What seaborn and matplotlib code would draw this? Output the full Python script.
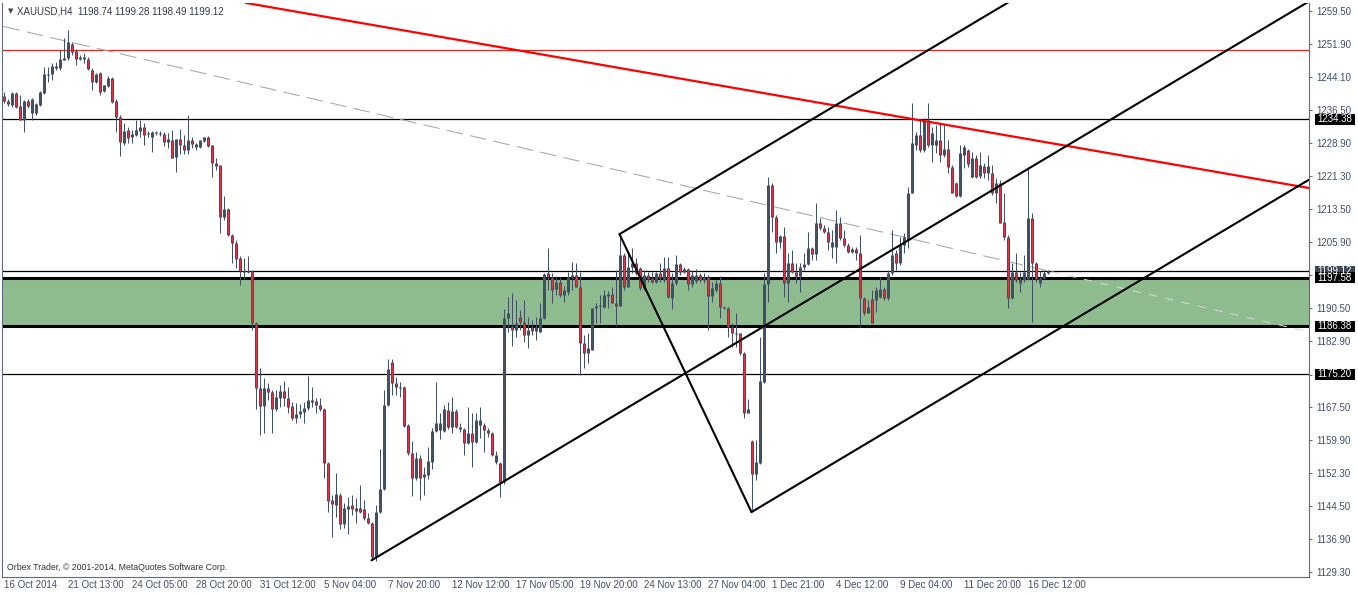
from __future__ import annotations

import matplotlib
matplotlib.use("Agg")
import matplotlib.pyplot as plt
import matplotlib.transforms as mtransforms
from matplotlib.patches import Rectangle
import numpy as np
import seaborn as sns


# H4 candles, XAUUSD (bar 0 = 16 Oct 2014 00:00)
OPEN = [
    1239.7, 1238.6, 1237.6, 1240.4, 1237.4, 1234.2, 1238.6, 1235.8, 1235.8, 1237.6,
    1240.4, 1244.8, 1244.8, 1246.7, 1246.2, 1248.1, 1248.5, 1251.8, 1250.2, 1248.3,
    1248.3, 1248.3, 1245.8, 1243.0, 1245.1, 1240.9, 1242.0, 1243.9, 1238.6, 1234.9,
    1228.8, 1231.8, 1230.2, 1230.7, 1231.6, 1232.5, 1231.1, 1230.2, 1231.1, 1231.1,
    1230.9, 1229.1, 1229.5, 1225.6, 1229.8, 1228.4, 1227.2, 1229.5, 1227.9, 1227.9,
    1229.3, 1230.2, 1228.4, 1224.2, 1223.7, 1211.7, 1213.5, 1207.5, 1205.6, 1202.1,
    1199.1, 1198.9, 1199.1, 1187.1, 1172.0, 1167.8, 1172.0, 1171.1, 1167.1, 1169.7,
    1171.3, 1169.7, 1167.8, 1165.0, 1166.0, 1166.4, 1167.3, 1169.2, 1169.0, 1168.0,
    1167.1, 1154.6, 1146.0, 1144.8, 1147.2, 1140.4, 1143.9, 1144.8, 1143.4, 1144.1,
    1143.9, 1141.8, 1140.7, 1132.8, 1143.2, 1148.5, 1168.0, 1178.0, 1173.1, 1172.2,
    1172.2, 1163.4, 1156.9, 1151.1, 1155.7, 1151.3, 1151.8, 1154.8, 1162.0, 1162.2,
    1162.0, 1166.9, 1162.9, 1166.6, 1162.5, 1162.5, 1159.2, 1161.5, 1159.5, 1163.4,
    1163.4, 1162.2, 1161.5, 1154.8, 1154.6, 1150.2, 1188.2, 1186.4, 1185.4, 1188.5,
    1187.3, 1184.3, 1186.1, 1185.2, 1185.0, 1188.2, 1198.7, 1197.7, 1195.0, 1196.6,
    1193.6, 1194.3, 1197.7, 1198.2, 1195.4, 1182.4, 1180.1, 1180.8, 1190.5, 1191.0,
    1190.8, 1193.3, 1193.8, 1191.7, 1191.0, 1202.8, 1195.4, 1200.1, 1201.0, 1199.8,
    1195.2, 1198.2, 1197.5, 1196.6, 1198.7, 1197.0, 1199.8, 1192.9, 1196.3, 1200.8,
    1198.9, 1199.6, 1196.1, 1196.8, 1198.2, 1197.0, 1197.7, 1193.3, 1194.7, 1196.3,
    1190.8, 1190.5, 1186.1, 1184.7, 1184.7, 1180.1, 1166.2, 1159.7, 1152.0, 1154.6,
    1173.4, 1196.1, 1219.1, 1211.7, 1205.9, 1207.2, 1196.3, 1201.0, 1198.9, 1198.0,
    1200.1, 1200.8, 1204.5, 1203.1, 1210.3, 1209.1, 1208.2, 1204.7, 1204.7, 1210.3,
    1206.8, 1205.2, 1203.5, 1204.2, 1203.3, 1192.9, 1189.4, 1192.6, 1192.4, 1193.1,
    1195.0, 1192.9, 1198.7, 1203.3, 1201.0, 1205.2, 1206.3, 1217.2, 1228.4, 1230.7,
    1227.2, 1234.2, 1228.4, 1228.4, 1229.5, 1226.0, 1227.4, 1223.3, 1219.5, 1216.5,
    1226.0, 1227.2, 1220.9, 1225.3, 1221.2, 1223.5, 1221.9, 1221.9, 1217.2, 1219.5,
    1210.5, 1207.0, 1192.9, 1198.9, 1196.3, 1197.0, 1197.3, 1211.4, 1201.0, 1196.3,
    1197.5, 1198.74,
]
HIGH = [
    1240.7, 1239.0, 1240.7, 1240.7, 1240.0, 1238.8, 1239.0, 1239.3, 1238.1, 1240.9,
    1246.5, 1246.5, 1247.4, 1247.6, 1250.4, 1253.2, 1255.0, 1252.3, 1250.6, 1249.2,
    1249.7, 1248.8, 1246.2, 1245.1, 1245.3, 1242.3, 1244.4, 1244.1, 1239.0, 1235.3,
    1233.5, 1232.5, 1231.8, 1234.2, 1234.2, 1233.5, 1231.6, 1231.6, 1231.6, 1231.6,
    1231.4, 1231.1, 1231.8, 1229.8, 1232.0, 1230.7, 1235.3, 1230.2, 1228.8, 1229.5,
    1230.2, 1230.4, 1228.4, 1225.3, 1223.7, 1216.5, 1213.7, 1207.7, 1206.3, 1202.6,
    1202.1, 1202.6, 1199.4, 1187.3, 1176.6, 1174.3, 1173.1, 1171.5, 1171.5, 1172.7,
    1173.6, 1172.2, 1168.7, 1168.5, 1168.3, 1168.7, 1174.8, 1172.2, 1169.7, 1169.7,
    1167.3, 1154.8, 1147.2, 1152.3, 1147.6, 1145.3, 1146.7, 1147.2, 1146.5, 1149.5,
    1146.0, 1143.0, 1140.9, 1144.8, 1157.8, 1171.5, 1178.7, 1178.7, 1174.5, 1173.4,
    1172.5, 1163.6, 1159.7, 1157.1, 1156.4, 1153.7, 1158.3, 1162.7, 1173.4, 1166.2,
    1168.0, 1168.7, 1169.9, 1167.1, 1163.9, 1162.7, 1167.6, 1166.2, 1166.2, 1167.6,
    1163.9, 1162.7, 1161.8, 1157.4, 1154.8, 1190.3, 1193.1, 1194.0, 1192.4, 1190.1,
    1192.4, 1188.5, 1187.8, 1188.5, 1191.7, 1198.7, 1204.5, 1198.7, 1198.0, 1197.7,
    1195.7, 1198.9, 1201.2, 1201.0, 1198.9, 1184.3, 1184.7, 1190.5, 1191.7, 1193.6,
    1194.7, 1194.5, 1195.4, 1199.4, 1207.7, 1203.3, 1203.5, 1204.5, 1202.1, 1200.1,
    1199.4, 1198.9, 1198.9, 1198.9, 1201.0, 1202.4, 1202.4, 1198.7, 1202.8, 1201.0,
    1200.1, 1199.8, 1199.4, 1199.6, 1198.7, 1198.7, 1198.2, 1196.6, 1197.0, 1198.0,
    1191.0, 1190.8, 1187.1, 1189.4, 1184.7, 1180.3, 1169.4, 1159.9, 1159.9, 1183.8,
    1198.7, 1220.9, 1219.5, 1212.1, 1207.5, 1209.3, 1203.3, 1204.0, 1201.0, 1201.0,
    1203.3, 1208.2, 1204.7, 1214.9, 1211.4, 1209.8, 1209.3, 1208.6, 1213.3, 1211.7,
    1208.6, 1205.6, 1204.7, 1204.7, 1207.5, 1193.1, 1192.4, 1194.7, 1195.4, 1197.7,
    1195.4, 1199.4, 1208.6, 1204.0, 1207.0, 1207.9, 1218.6, 1238.1, 1231.4, 1234.2,
    1234.6, 1238.1, 1232.5, 1233.0, 1233.5, 1233.0, 1229.5, 1223.7, 1219.8, 1228.4,
    1228.4, 1227.4, 1226.7, 1226.0, 1226.7, 1224.2, 1226.0, 1223.7, 1220.7, 1220.2,
    1217.2, 1207.5, 1201.0, 1203.3, 1198.9, 1202.8, 1223.3, 1212.6, 1201.2, 1199.1,
    1199.4, 1199.28,
]
LOW = [
    1238.1, 1237.4, 1237.2, 1236.9, 1234.2, 1231.4, 1236.9, 1234.2, 1235.3, 1237.4,
    1240.2, 1243.0, 1243.4, 1245.8, 1245.8, 1248.1, 1248.1, 1249.2, 1246.9, 1248.1,
    1247.4, 1245.8, 1241.1, 1242.7, 1240.0, 1240.7, 1241.8, 1238.1, 1231.4, 1225.8,
    1228.4, 1228.8, 1228.8, 1230.4, 1230.2, 1228.4, 1230.2, 1226.7, 1230.7, 1230.4,
    1228.1, 1227.7, 1225.3, 1222.1, 1226.3, 1226.3, 1226.3, 1227.7, 1227.2, 1227.7,
    1229.1, 1227.9, 1220.9, 1222.6, 1207.9, 1211.0, 1207.2, 1201.0, 1199.8, 1195.9,
    1197.3, 1198.7, 1185.4, 1167.1, 1161.1, 1161.5, 1169.2, 1161.5, 1166.6, 1167.6,
    1167.8, 1166.2, 1164.6, 1163.9, 1165.0, 1163.9, 1166.9, 1167.6, 1166.2, 1166.6,
    1151.1, 1143.2, 1137.4, 1142.1, 1139.3, 1139.5, 1138.1, 1142.5, 1140.7, 1143.0,
    1141.4, 1140.4, 1132.1, 1131.9, 1143.0, 1148.3, 1167.8, 1170.4, 1170.4, 1169.9,
    1162.9, 1156.4, 1146.9, 1150.6, 1146.0, 1147.2, 1150.9, 1153.2, 1161.8, 1160.2,
    1161.8, 1162.5, 1161.5, 1162.7, 1161.8, 1156.4, 1159.0, 1153.7, 1159.2, 1160.4,
    1157.1, 1160.6, 1156.2, 1154.3, 1146.7, 1149.7, 1185.0, 1181.7, 1183.8, 1185.4,
    1182.7, 1181.3, 1184.3, 1183.1, 1185.0, 1188.0, 1194.7, 1191.7, 1193.6, 1193.1,
    1191.9, 1193.6, 1194.7, 1195.4, 1175.0, 1176.6, 1177.8, 1180.8, 1187.1, 1187.1,
    1190.5, 1190.5, 1191.7, 1186.4, 1191.0, 1194.7, 1195.4, 1198.7, 1198.2, 1194.7,
    1194.7, 1196.6, 1196.3, 1196.3, 1196.6, 1196.6, 1192.9, 1190.3, 1195.9, 1198.2,
    1198.7, 1194.7, 1195.4, 1196.3, 1196.6, 1196.3, 1185.4, 1191.9, 1194.3, 1188.2,
    1190.3, 1183.8, 1181.5, 1181.5, 1179.6, 1165.0, 1166.2, 1143.7, 1150.6, 1154.3,
    1173.1, 1191.9, 1208.2, 1203.3, 1204.5, 1193.1, 1191.9, 1198.7, 1196.3, 1194.3,
    1199.4, 1200.5, 1201.7, 1201.7, 1208.6, 1207.9, 1204.0, 1202.1, 1201.0, 1206.3,
    1204.7, 1203.3, 1203.3, 1201.7, 1186.1, 1188.9, 1189.4, 1187.1, 1189.6, 1192.9,
    1192.4, 1192.4, 1198.2, 1199.4, 1200.5, 1203.3, 1204.5, 1217.2, 1227.2, 1226.7,
    1226.7, 1227.9, 1224.4, 1226.5, 1224.4, 1225.6, 1221.9, 1217.2, 1216.3, 1216.3,
    1223.0, 1223.3, 1220.7, 1220.7, 1220.7, 1220.7, 1220.2, 1216.8, 1214.9, 1210.3,
    1206.3, 1190.5, 1192.6, 1196.6, 1194.3, 1196.6, 1197.0, 1187.3, 1196.6, 1195.4,
    1197.3, 1198.49,
]
CLOSE = [
    1238.6, 1237.9, 1240.4, 1237.2, 1234.2, 1238.6, 1237.4, 1239.0, 1237.9, 1240.7,
    1244.8, 1244.9, 1246.7, 1246.2, 1248.3, 1248.5, 1252.3, 1249.9, 1248.3, 1248.8,
    1248.8, 1246.0, 1243.0, 1244.8, 1240.7, 1242.3, 1243.9, 1238.3, 1234.9, 1229.1,
    1231.6, 1230.0, 1230.9, 1231.8, 1232.5, 1230.7, 1230.9, 1231.4, 1231.4, 1230.9,
    1229.1, 1229.8, 1225.3, 1229.8, 1228.4, 1227.2, 1229.5, 1228.6, 1228.6, 1229.5,
    1230.2, 1228.1, 1224.2, 1223.5, 1211.7, 1213.5, 1207.5, 1205.6, 1201.9, 1199.1,
    1198.9, 1199.1, 1187.1, 1172.0, 1167.8, 1172.0, 1171.1, 1167.1, 1169.9, 1171.3,
    1169.7, 1167.6, 1165.0, 1166.0, 1166.6, 1167.3, 1169.2, 1168.7, 1168.0, 1167.1,
    1154.6, 1145.8, 1145.1, 1147.4, 1140.4, 1144.1, 1144.6, 1143.9, 1144.1, 1143.2,
    1141.8, 1140.7, 1132.8, 1143.2, 1148.5, 1168.0, 1176.4, 1173.1, 1172.2, 1172.0,
    1163.2, 1156.9, 1151.1, 1155.7, 1151.1, 1152.0, 1155.0, 1162.0, 1163.9, 1163.9,
    1167.1, 1162.9, 1166.6, 1162.9, 1162.9, 1159.2, 1161.5, 1159.5, 1164.6, 1164.6,
    1162.2, 1161.5, 1156.4, 1156.4, 1150.2, 1188.2, 1189.4, 1185.4, 1187.1, 1187.3,
    1184.3, 1185.4, 1185.2, 1186.1, 1188.2, 1198.4, 1197.7, 1194.7, 1196.6, 1193.6,
    1194.7, 1197.7, 1198.2, 1195.4, 1182.4, 1180.1, 1181.3, 1190.5, 1191.0, 1191.1,
    1193.6, 1193.8, 1191.7, 1191.0, 1202.8, 1195.4, 1200.1, 1201.0, 1198.7, 1195.2,
    1198.2, 1197.3, 1196.6, 1198.7, 1197.5, 1199.8, 1193.1, 1196.3, 1200.8, 1198.9,
    1199.6, 1196.1, 1198.2, 1198.2, 1197.0, 1197.7, 1193.3, 1195.2, 1196.3, 1190.8,
    1190.5, 1186.1, 1184.7, 1184.6, 1180.1, 1166.2, 1167.1, 1152.0, 1154.8, 1173.6,
    1196.1, 1219.1, 1211.7, 1205.9, 1207.2, 1196.3, 1201.0, 1198.9, 1198.0, 1200.1,
    1200.8, 1204.5, 1203.1, 1210.3, 1209.1, 1208.2, 1205.9, 1205.9, 1210.3, 1206.8,
    1205.2, 1203.5, 1204.2, 1203.3, 1192.9, 1189.4, 1190.8, 1187.1, 1194.7, 1195.0,
    1192.9, 1198.7, 1202.8, 1201.0, 1205.2, 1207.0, 1217.2, 1228.8, 1230.7, 1227.2,
    1234.2, 1228.4, 1231.1, 1229.5, 1226.0, 1227.4, 1223.3, 1217.2, 1216.5, 1226.5,
    1227.9, 1224.0, 1225.3, 1220.9, 1223.7, 1221.9, 1223.5, 1217.2, 1219.5, 1210.3,
    1207.0, 1192.9, 1198.9, 1197.0, 1197.3, 1198.9, 1211.4, 1201.0, 1197.3, 1197.5,
    1198.7, 1199.12,
]

DATE_LABELS = [
    "16 Oct 2014", "21 Oct 13:00", "24 Oct 05:00", "28 Oct 20:00", "31 Oct 12:00",
    "5 Nov 04:00", "7 Nov 20:00", "12 Nov 12:00", "17 Nov 05:00", "19 Nov 20:00",
    "24 Nov 13:00", "27 Nov 04:00", "1 Dec 21:00", "4 Dec 12:00", "9 Dec 04:00",
    "11 Dec 20:00", "16 Dec 12:00",
]
BARS_PER_LABEL = 16

PRICE_TICKS = [
    1259.50, 1251.90, 1244.10, 1236.50, 1228.90, 1221.30, 1213.50, 1205.90, 1198.30,
    1190.50, 1182.90, 1175.10, 1167.50, 1159.90, 1152.30, 1144.50, 1136.90, 1129.30,
]

HEADER = "XAUUSD,H4  1198.74 1199.28 1198.49 1199.12"
FOOTER = "Orbex Trader, \u00a9 2001-2014, MetaQuotes Software Corp."

RED_LEVEL = 1250.4
THIN_LEVELS = [1234.38, 1199.12, 1175.20]
ZONE_LOW, ZONE_HIGH = 1186.38, 1197.58
BOX_PRICES = [1234.38, 1199.12, 1197.58, 1186.38, 1175.20]

RED_TREND_BARS = [60.4, 326.4]
RED_TREND_PRICES = [1261.4, 1218.4]
GRAY_TREND_BARS = [0.0, 326.4]
GRAY_TREND_PRICES = [1255.9, 1185.0]
PITCHFORK_BARS = [92.0, 154.0, 187.0]
PITCHFORK_PRICES = [1132.0, 1207.7, 1143.2]

W, H = 1358, 594
SLATE = "#425066"
BEAR_RED = "#e3324a"
TEXT = "#3f4f6a"


def line_at(bars, prices, x):
    slope = (prices[1] - prices[0]) / (bars[1] - bars[0])
    return prices[0] + slope * (np.asarray(x) - bars[0])


def main() -> None:
    sns.set_theme(style="white")
    plt.rcParams["font.family"] = ["Liberation Sans", "DejaVu Sans"]

    fig = plt.figure(figsize=(W / 100, H / 100), dpi=100)
    fig.patch.set_facecolor("white")
    ax = fig.add_axes([2 / W, 17 / H, 1307 / W, 574 / H])
    ax.set_facecolor("white")

    x_min, x_max = -0.375, 326.375
    y_min, y_max = 1128.13, 1261.35
    ax.set_xlim(x_min, x_max)
    ax.set_ylim(y_min, y_max)
    pp = (y_max - y_min) / 574  # price per pixel

    # zone and horizontal levels (below the candles)
    ax.axhspan(ZONE_LOW, ZONE_HIGH, color="#8fbc8f", lw=0, zorder=0.5)
    ax.axhline(RED_LEVEL, color="#d42a2a", lw=0.9, zorder=1)
    for level in THIN_LEVELS:
        ax.axhline(level, color="black", lw=0.9, zorder=1)
    for level in (ZONE_LOW, ZONE_HIGH):
        ax.axhline(level, color="black", lw=2.2, zorder=1)

    # gray dashed trend line, lighter past the last bar
    n = min(len(OPEN), len(HIGH), len(LOW), len(CLOSE))
    xs = np.array([GRAY_TREND_BARS[0], n])
    ax.plot(xs, line_at(GRAY_TREND_BARS, GRAY_TREND_PRICES, xs), color="#a6a6a6",
            lw=0.75, dashes=(16, 7), zorder=1.2)
    xs = np.array([n, GRAY_TREND_BARS[1]])
    ax.plot(xs, line_at(GRAY_TREND_BARS, GRAY_TREND_PRICES, xs), color="#d6d6d6",
            lw=0.75, dashes=(8, 8), zorder=1.2)

    # candles
    o = np.array(OPEN[:n])
    h = np.array(HIGH[:n])
    lo = np.array(LOW[:n])
    c = np.array(CLOSE[:n])
    x = np.arange(n)
    top = np.maximum(o, c)
    bot = np.minimum(o, c)
    mid = (top + bot) / 2
    thin = (top - bot) < pp
    top = np.where(thin, mid + pp / 2, top)
    bot = np.where(thin, mid - pp / 2, bot)
    ax.vlines(x, lo, h, color=SLATE, lw=0.72, zorder=2)
    ax.vlines(x, bot, top, color=SLATE, lw=2.16, zorder=2.1)
    bear = (c < o) & ((top - bot) > 2.5 * pp)
    ax.vlines(x[bear], bot[bear] + pp, top[bear] - pp, color=BEAR_RED, lw=0.72, zorder=2.2)

    # red trend line
    xs = np.array([RED_TREND_BARS[0], x_max])
    ax.plot(xs, line_at(RED_TREND_BARS, RED_TREND_PRICES, xs), color="#ff0000", lw=1.6,
            zorder=3, solid_capstyle="butt")

    # Andrews pitchfork
    b1, b2, b3 = PITCHFORK_BARS
    p1, p2, p3 = PITCHFORK_PRICES
    mid_bar, mid_price = (b2 + b3) / 2, (p2 + p3) / 2
    slope = (mid_price - p1) / (mid_bar - b1)
    for bx, py in ((b1, p1), (b2, p2), (b3, p3)):
        ax.plot([bx, x_max], [py, py + slope * (x_max - bx)], color="black", lw=1.5, zorder=3)
    ax.plot([b2, b3], [p2, p3], color="black", lw=1.5, zorder=3)

    # axes styling
    for side in ("left", "right", "bottom"):
        ax.spines[side].set_color("#5f6b7c")
        ax.spines[side].set_linewidth(0.8)
    ax.spines["top"].set_visible(False)
    ax.grid(False)

    ax.yaxis.tick_right()
    ax.set_yticks(PRICE_TICKS)
    ax.set_yticklabels([f"{v:.2f}" for v in PRICE_TICKS])
    ax.tick_params(axis="y", which="both", direction="out", length=2.2, width=0.7,
                   color="#5f6b7c", labelsize=7, labelcolor=TEXT, pad=3,
                   left=False, right=True)
    ax.set_xticks(np.arange(len(DATE_LABELS)) * BARS_PER_LABEL)
    ax.set_xticklabels(DATE_LABELS)
    ax.tick_params(axis="x", direction="out", length=3, width=0.7, color="#5f6b7c",
                   labelsize=7, labelcolor=TEXT, pad=-0.5)
    for label in ax.get_xticklabels():
        label.set_horizontalalignment("left")

    # price labels on the right axis
    blend = mtransforms.blended_transform_factory(ax.transAxes, ax.transData)
    box_styles = ["black", "#3d4753", "black", "black", "black"]
    for price, face in zip(BOX_PRICES, box_styles):
        ax.add_patch(Rectangle((1 + 6 / 1307, price - 5.5 * pp), 40 / 1307, 11 * pp,
                               transform=blend, facecolor=face, edgecolor="none",
                               clip_on=False, zorder=10))
        ax.text(1 + 8 / 1307, price, f"{price:.2f}", transform=blend, color="white",
                fontsize=7, ha="left", va="center", clip_on=False, zorder=11)

    fig.text(8 / W, 1 - 11 / H, "\u25bc", fontsize=5, color="#3a4656",
             ha="left", va="center", family=["DejaVu Sans"])
    fig.text(17 / W, 1 - 11 / H, HEADER, fontsize=7, color="#2f3b4a", ha="left", va="center")
    fig.text(7 / W, 1 - 568 / H, FOOTER, fontsize=6.3, color="#333333", ha="left", va="center")

    fig.savefig("out.png", dpi=100)
    plt.close(fig)


if __name__ == "__main__":
    main()
